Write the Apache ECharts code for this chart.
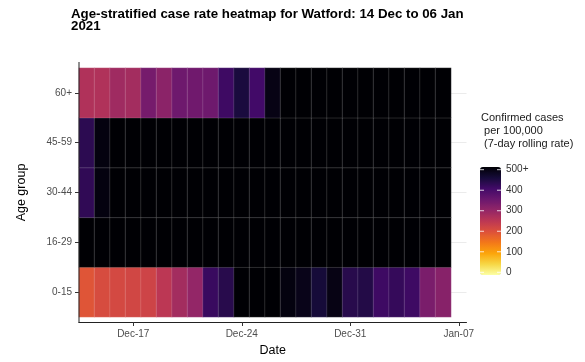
<!DOCTYPE html>
<html><head><meta charset="utf-8">
<script src="https://cdn.jsdelivr.net/npm/echarts@6/dist/echarts.min.js"></script>
<style>html,body{margin:0;padding:0;background:#fff}#c{width:585px;height:362px}</style>
</head><body><div id="c"></div>
<script>
// ---- data ----
const dates = ['Dec-14','Dec-15','Dec-16','Dec-17','Dec-18','Dec-19','Dec-20','Dec-21','Dec-22','Dec-23','Dec-24','Dec-25','Dec-26','Dec-27','Dec-28','Dec-29','Dec-30','Dec-31','Jan-01','Jan-02','Jan-03','Jan-04','Jan-05','Jan-06','Jan-07'];
const ageGroups = ['0-15','16-29','30-44','45-59','60+'];
// 7-day rolling case rate per 100,000 (500 = 500+)
const rate0_15  = [195,210,215,220,225,250,280,300,410,430,500,500,500,490,480,450,485,430,435,405,415,405,330,315];
const rate16_29 = [500,500,500,500,500,500,500,500,500,500,500,500,500,500,500,500,500,500,500,500,500,500,500,500];
const rate30_44 = [420,490,500,500,500,500,500,500,500,500,500,500,500,500,500,500,500,500,500,500,500,500,500,500];
const rate45_59 = [425,490,500,500,500,500,500,500,500,500,500,500,500,500,500,500,500,500,500,500,500,500,500,500];
const rate60    = [265,265,285,280,335,310,345,343,345,405,445,400,485,500,500,500,500,500,500,500,500,500,500,500];
const legendBreaks = [0,100,200,300,400,500];
const legendLabels = ['0','100','200','300','400','500+'];
const xTickLabels = ['Dec-17','Dec-24','Dec-31','Jan-07'];

// ---- build ----
const FONT = '"Liberation Sans", Arial, Helvetica, sans-serif';
const infernoRev = ['#fcffa4','#f6d746','#fca50a','#f37819','#dd513a','#bc3754','#932667','#6a176e','#420a68','#160b39','#000004'];
const rows = [rate0_15, rate16_29, rate30_44, rate45_59, rate60];
const heatData = [];
rows.forEach((row, yi) => row.forEach((v, xi) => heatData.push([xi, yi, v])));

const vm = {left: 480, top: 167, w: 21, h: 108, min: 0, max: 500};
const pad = vm.h * 0.025;
const graphics = [];
graphics.push({type: 'line', silent: true, z: 10,
  shape: {x1: 79, y1: 62, x2: 79, y2: 323}, style: {stroke: '#222', lineWidth: 1}});
graphics.push({type: 'text', x: 481, y: 111, silent: true,
  style: {text: 'Confirmed cases\n per 100,000\n (7-day rolling rate)', font: '11px ' + FONT, lineHeight: 13.3, fill: '#1a1a1a', verticalAlign: 'top'}});
legendBreaks.forEach((b, i) => {
  const y = vm.top + pad + (1 - (b - vm.min) / (vm.max - vm.min)) * (vm.h - 2 * pad);
  graphics.push({type: 'text', x: vm.left + vm.w + 5, y: y, silent: true,
    style: {text: legendLabels[i], font: '10px ' + FONT, fill: '#333', verticalAlign: 'middle', align: 'left'}});
  graphics.push({type: 'line', silent: true, z: 10, shape: {x1: vm.left, y1: y, x2: vm.left + 4, y2: y}, style: {stroke: 'rgba(255,255,255,0.8)', lineWidth: 1}});
  graphics.push({type: 'line', silent: true, z: 10, shape: {x1: vm.left + vm.w - 4, y1: y, x2: vm.left + vm.w, y2: y}, style: {stroke: 'rgba(255,255,255,0.8)', lineWidth: 1}});
});

const tickFn = (idx) => xTickLabels.indexOf(dates[idx]) >= 0;

const chart = echarts.init(document.getElementById('c'), null, {renderer: 'canvas'});
chart.setOption({
  animation: false,
  backgroundColor: '#fff',
  textStyle: {fontFamily: FONT},
  title: {
    text: 'Age-stratified case rate heatmap for Watford: 14 Dec to 06 Jan\n2021',
    left: 71, top: 8, padding: 0,
    textStyle: {fontSize: 13.3, fontWeight: 'bold', color: '#000', lineHeight: 12.5, fontFamily: FONT}
  },
  grid: {left: 79, top: 68, width: 387.5, height: 250, containLabel: false},
  xAxis: {
    type: 'category', data: dates, offset: 5,
    axisLine: {show: true, lineStyle: {color: '#222', width: 1}},
    axisTick: {show: true, alignWithLabel: true, interval: (i) => tickFn(i), length: 4, lineStyle: {color: '#333'}},
    axisLabel: {interval: (i) => tickFn(i), color: '#4d4d4d', fontSize: 10, margin: 7, fontFamily: FONT},
    splitLine: {show: false},
    name: 'Date', nameLocation: 'middle', nameGap: 22,
    nameTextStyle: {fontSize: 12.5, color: '#000', fontFamily: FONT}
  },
  yAxis: {
    type: 'category', data: ageGroups,
    axisLine: {show: false},
    axisTick: {show: true, alignWithLabel: true, length: 4, lineStyle: {color: '#333'}},
    axisLabel: {color: '#4d4d4d', fontSize: 10, margin: 7, fontFamily: FONT},
    splitLine: {show: false},
    name: 'Age group', nameLocation: 'middle', nameRotate: 90, nameGap: 51,
    nameTextStyle: {fontSize: 12.5, color: '#000', fontFamily: FONT}
  },
  visualMap: {
    type: 'continuous', min: vm.min, max: vm.max, calculable: false, orient: 'vertical',
    left: vm.left, top: vm.top, itemWidth: vm.w, itemHeight: vm.h, padding: 0,
    text: null, seriesIndex: 0, inRange: {color: infernoRev}
  },
  series: [
    {
      type: 'heatmap', data: heatData, z: 3,
      itemStyle: {borderColor: 'rgba(255,255,255,0.15)', borderWidth: 1},
      emphasis: {disabled: true}
    },
    {
      type: 'line', data: [], silent: true, symbol: 'none',
      markLine: {
        z: 0, silent: true, symbol: ['none', 'none'], label: {show: false},
        lineStyle: {color: '#ebebeb', width: 1, type: 'solid'},
        data: ageGroups.map((g, i) => ({yAxis: i}))
      }
    }
  ],
  graphic: graphics
});
</script></body></html>
